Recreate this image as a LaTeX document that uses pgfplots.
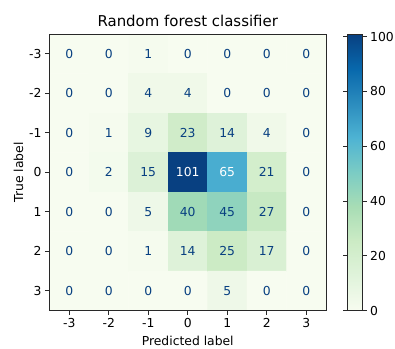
\documentclass[border=0pt]{standalone}
\usepackage{pgfplots}
\usepackage{pgfplotstable}
\pgfplotsset{compat=1.18}
\usepackage{fontspec}
\setmainfont{DejaVu Sans}
\definecolor{txtblue}{RGB}{8,64,129}
\definecolor{framec}{RGB}{40,40,40}
\pgfplotstableread{
x y v
-3 -3 0
-2 -3 0
-1 -3 1
0 -3 0
1 -3 0
2 -3 0
3 -3 0
-3 -2 0
-2 -2 0
-1 -2 4
0 -2 4
1 -2 0
2 -2 0
3 -2 0
-3 -1 0
-2 -1 1
-1 -1 9
0 -1 23
1 -1 14
2 -1 4
3 -1 0
-3 0 0
-2 0 2
-1 0 15
0 0 101
1 0 65
2 0 21
3 0 0
-3 1 0
-2 1 0
-1 1 5
0 1 40
1 1 45
2 1 27
3 1 0
-3 2 0
-2 2 0
-1 2 1
0 2 14
1 2 25
2 2 17
3 2 0
-3 3 0
-2 3 0
-1 3 0
0 3 0
1 3 5
2 3 0
3 3 0
}\cmtable
\begin{document}
\begin{tikzpicture}[font=\fontsize{12.4}{15}\selectfont]
\path[use as bounding box] (-49.5bp,-38.5bp) rectangle (345.5bp,310.5bp);
\begin{axis}[
  at={(0,0)}, anchor=south west,
  scale only axis, width=276.5bp, height=276.5bp,
  axis on top,
  xmin=-3.5, xmax=3.5, ymin=-3.5, ymax=3.5,
  y dir=reverse,
  colormap={gnbu}{rgb255=(247,252,240) rgb255=(224,243,219) rgb255=(204,235,197) rgb255=(168,221,181) rgb255=(123,204,196) rgb255=(78,179,211) rgb255=(43,140,190) rgb255=(8,104,172) rgb255=(8,64,129)},
  point meta min=0, point meta max=101,
  xtick={-3,...,3}, ytick={-3,...,3},
  xticklabels={-3,-2,-1,0,1,2,3},
  yticklabels={-3,-2,-1,0,1,2,3},
  tick align=outside, tick pos=left,
  major tick length=4.5bp,
  every tick/.style={framec, line width=0.9bp},
  axis line style={framec, line width=0.9bp},
  xlabel={Predicted label}, ylabel={True label},
  xlabel style={yshift=-1bp},
  ylabel style={yshift=-1bp},
  title={Random forest classifier},
  title style={font=\fontsize{15}{18}\selectfont, yshift=-2bp},
  colorbar,
  colorbar style={
    at={(parent axis.north east)}, anchor=north west, xshift=13.3bp,
    scale only axis, width=14.4bp, height=276.5bp,
    ymin=0, ymax=101,
    ytick={0,20,40,60,80,100},
    yticklabels={0,20,40,60,80,100},
    tick align=outside, major tick length=4.5bp,
    every tick/.style={framec, line width=0.9bp},
    axis line style={framec, line width=0.9bp},
  },
]
\addplot[matrix plot*, mesh/cols=7, point meta=explicit] table[x=x, y=y, meta=v] {\cmtable};
\addplot[only marks, mark=none, point meta=explicit,
  nodes near coords={\pgfmathfloattoint{\pgfplotspointmeta}\let\vv=\pgfmathresult\ifnum\vv>50 \color{white}\else\color{txtblue}\fi\vv},
  nodes near coords align=center] table[x=x, y=y, meta=v] {\cmtable};
\end{axis}
\end{tikzpicture}
\end{document}
